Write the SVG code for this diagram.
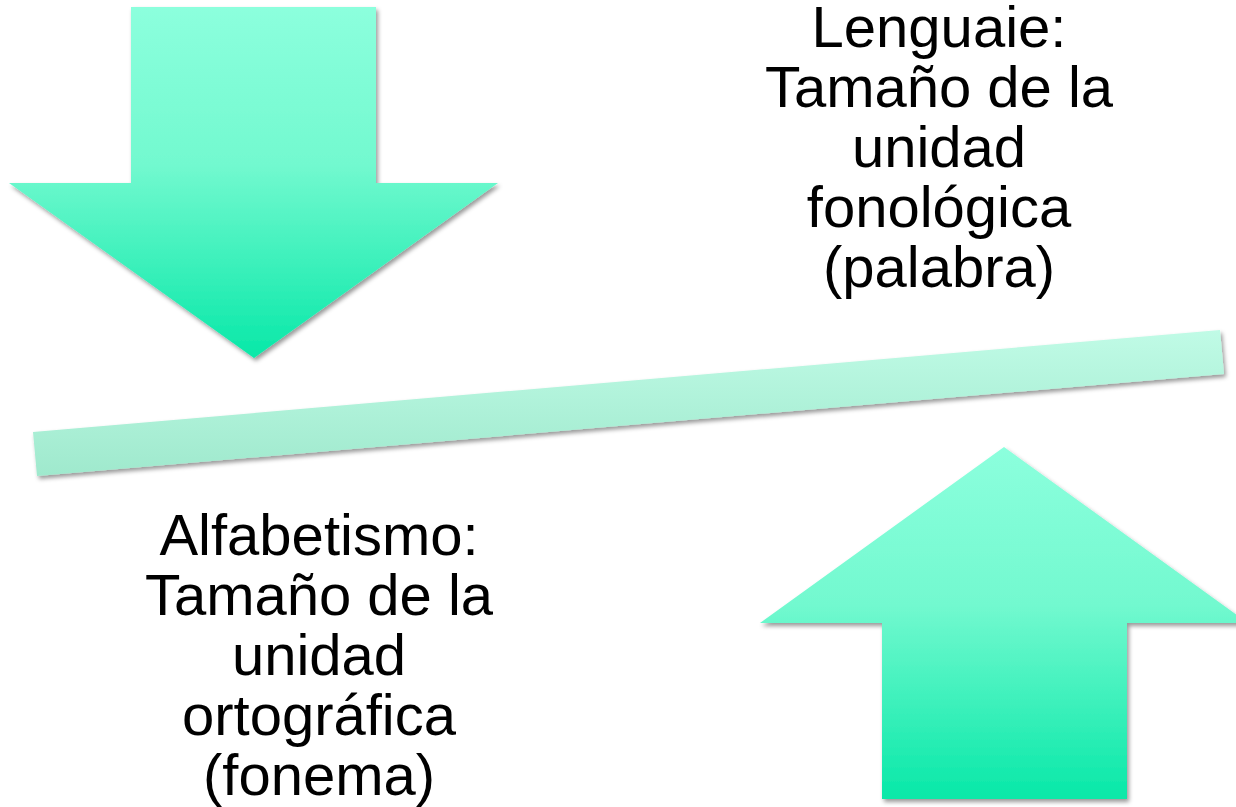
<svg xmlns="http://www.w3.org/2000/svg" width="1236" height="807" viewBox="0 0 1236 807">
  <defs>
    <linearGradient id="arrowGrad" x1="0" y1="0" x2="0" y2="1">
      <stop offset="0" stop-color="#8cffdd"/>
      <stop offset="0.45" stop-color="#72f9cf"/>
      <stop offset="1" stop-color="#08e8a8"/>
    </linearGradient>
    <linearGradient id="barGrad" x1="0" y1="0" x2="0" y2="1">
      <stop offset="0" stop-color="#c0fbe6"/>
      <stop offset="1" stop-color="#9fe9cd"/>
    </linearGradient>
    <filter id="shadow" x="-10%" y="-10%" width="120%" height="130%">
      <feDropShadow dx="2" dy="3" stdDeviation="2" flood-color="#000" flood-opacity="0.4"/>
    </filter>
  </defs>
  <style>
    .lbl { font-family: "Liberation Sans", Arial, sans-serif; font-size: 58px; fill: #000; text-anchor: middle; }
  </style>
  <rect width="1236" height="807" fill="#fff"/>

  <g id="bar">
    <polygon points="33,432 1220,330 1224,374 37,476" fill="url(#barGrad)" filter="url(#shadow)"/>
  </g>

  <g id="arrow-down">
    <polygon points="131,7 376,7 376,183 498,183 254,358 9,183 131,183" fill="url(#arrowGrad)" filter="url(#shadow)"/>
  </g>

  <g id="arrow-up">
    <polygon points="1004,447 1248,623 1127,623 1127,799 882,799 882,623 760,623" fill="url(#arrowGrad)" filter="url(#shadow)"/>
  </g>

  <g id="label-lenguaje">
    <text class="lbl" x="939" y="47">Lenguaie:</text>
    <text class="lbl" x="939" y="107">Tamaño de la</text>
    <text class="lbl" x="939" y="167">unidad</text>
    <text class="lbl" x="939" y="227">fonológica</text>
    <text class="lbl" x="939" y="287">(palabra)</text>
  </g>

  <g id="label-alfabetismo">
    <text class="lbl" x="319" y="555">Alfabetismo:</text>
    <text class="lbl" x="319" y="615">Tamaño de la</text>
    <text class="lbl" x="319" y="675">unidad</text>
    <text class="lbl" x="319" y="735">ortográfica</text>
    <text class="lbl" x="319" y="795">(fonema)</text>
  </g>

  <g id="connectors"/>
</svg>
